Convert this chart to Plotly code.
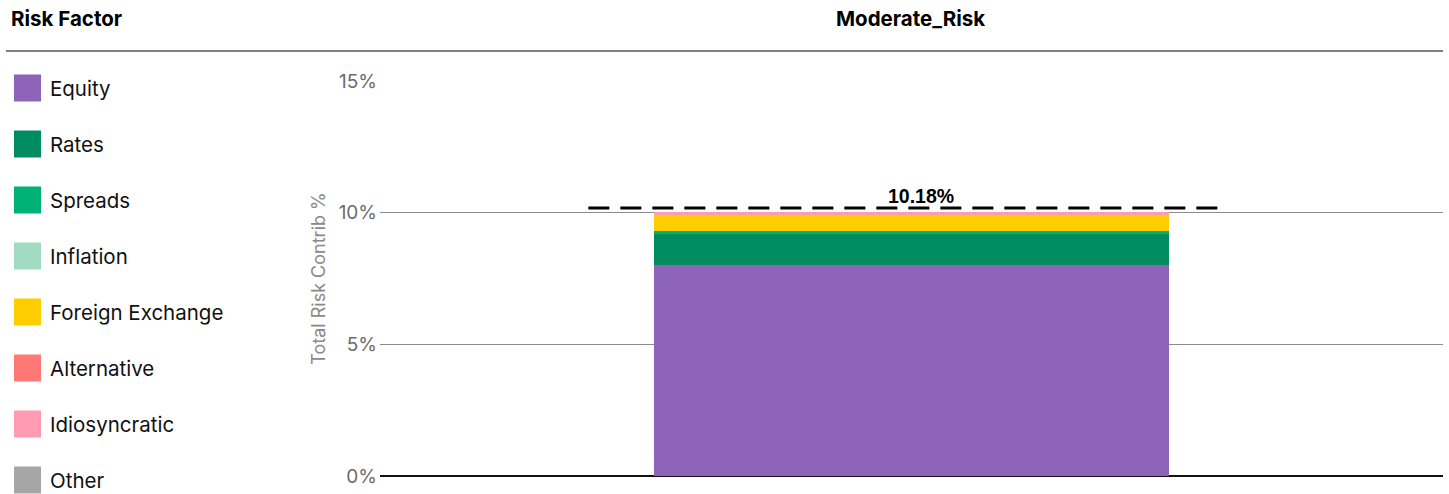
import plotly.graph_objects as go

categories = ["Moderate_Risk"]
factors = ["Equity", "Rates", "Spreads", "Inflation", "Foreign Exchange",
           "Alternative", "Idiosyncratic", "Other"]
colors = ["#8E63BA", "#008C5F", "#00B176", "#A0DBC2", "#FFCE00",
          "#FF7873", "#FF9BB3", "#A6A6A6"]
values = {
    "Equity": [8.00],
    "Rates": [1.18],
    "Spreads": [0.12],
    "Inflation": [0.0],
    "Foreign Exchange": [0.62],
    "Alternative": [0.0],
    "Idiosyncratic": [0.09],
    "Other": [0.0],
}
total = [10.18]
y_ticks = [0, 5, 10, 15]
y_tick_labels = ["0%", "5%", "10%", "15%"]

FONT = "Inter"

fig = go.Figure()
for f, c in zip(factors, colors):
    fig.add_trace(go.Bar(x=[0], y=values[f], name=f, marker=dict(color=c, line=dict(width=0)),
                         width=0.484, showlegend=False, hoverinfo="name+y"))

fig.add_trace(go.Scatter(x=[-0.304, 0.288], y=[total[0], total[0]], mode="lines",
                         line=dict(color="black", width=3, dash="21px,11px"),
                         showlegend=False, hoverinfo="skip"))
fig.add_trace(go.Scatter(x=[0.009], y=[total[0]], mode="text",
                         text=[f"{total[0]:.2f}%"], textposition="top center",
                         textfont=dict(family="Liberation Sans", size=19.5, color="black", weight="bold"),
                         showlegend=False, hoverinfo="skip"))

# custom legend
for i, (f, c) in enumerate(zip(factors, colors)):
    yc = 88 + 56 * i
    fig.add_shape(type="rect", xref="paper", yref="paper",
                  x0=(14 - 380) / 1063, x1=(41 - 380) / 1063,
                  y0=(476 - (yc + 13.5)) / 395, y1=(476 - (yc - 13.5)) / 395,
                  fillcolor=c, line=dict(width=0))
    fig.add_annotation(xref="paper", yref="paper", x=(48 - 380) / 1063,
                       y=(476 - yc) / 395, text=f, showarrow=False,
                       xanchor="left", yanchor="middle",
                       font=dict(family=FONT, size=20.5, color="#111111"))

fig.add_annotation(xref="paper", yref="paper", x=(9 - 380) / 1063, y=(476 - 18) / 395,
                   text="<b>Risk Factor</b>", showarrow=False, xanchor="left", yanchor="middle",
                   font=dict(family=FONT, size=20.5, color="black"))
fig.add_annotation(xref="paper", yref="paper", x=(910 - 380) / 1063, y=(476 - 18) / 395,
                   text="<b>" + categories[0] + "</b>", showarrow=False, xanchor="center", yanchor="middle",
                   font=dict(family=FONT, size=20.5, color="black"))
fig.add_shape(type="line", xref="paper", yref="paper",
              x0=(6 - 380) / 1063, x1=(1443 - 380) / 1063,
              y0=(476 - 51) / 395, y1=(476 - 51) / 395,
              line=dict(color="#808080", width=2))

fig.update_layout(
    width=1449, height=494,
    margin=dict(l=380, r=6, t=81, b=18),
    paper_bgcolor="white", plot_bgcolor="white",
    barmode="relative", bargap=0,
    showlegend=False,
    font=dict(family=FONT),
    xaxis=dict(range=[-0.5, 0.5], showticklabels=False, showgrid=False, zeroline=False,
               fixedrange=True),
    yaxis=dict(range=[0, 15], tickvals=y_ticks, ticktext=y_tick_labels,
               showgrid=True, gridcolor="#8c8c8c", gridwidth=1,
               zeroline=True, zerolinecolor="#111111", zerolinewidth=2,
               tickfont=dict(family=FONT, size=19, color="#6b6b6b"),
               ticks="", ticklabelstandoff=2,
               title=dict(text="Total Risk Contrib %", standoff=8,
                          font=dict(family=FONT, size=18, color="#8a8a8a"))),
)

fig.write_html("out.html", config={"displayModeBar": False},
               post_script="document.body.style.margin='0';document.body.style.padding='0';")
